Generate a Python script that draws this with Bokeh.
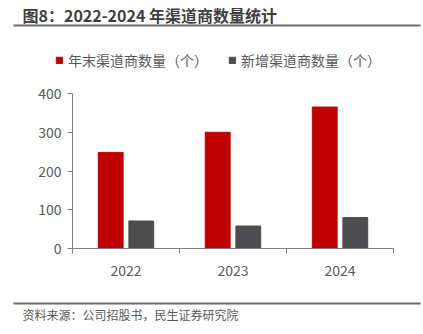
from bokeh.plotting import figure
from bokeh.layouts import column
from bokeh.models import (FixedTicker, Label, BoxAnnotation, Legend, LegendItem, Range1d, ColumnDataSource)
from bokeh.transform import dodge
from bokeh.embed import file_html
from bokeh.resources import INLINE

years = ["2022", "2023", "2024"]
year_end = [248, 300, 365]
new_added = [71, 58, 80]
y_ticks = [0, 100, 200, 300, 400]
title_text = "图8：2022-2024 年渠道商数量统计"
series_names = ["年末渠道商数量（个）", "新增渠道商数量（个）"]
source_text = "资料来源：公司招股书，民生证券研究院"

FONT = "Noto Sans CJK SC"
RED = "#c00000"
GRAY = "#4d4d4f"
TXT = "#595959"
LINE = "#7f7f7f"
RULE = "#6b6b6b"
W = 423

xs = [i + 0.5 for i in range(len(years))]
src = ColumnDataSource(dict(x=xs, a=year_end, b=new_added))


def bare(h):
    f = figure(width=W, height=h, output_backend="svg", toolbar_location=None,
               x_axis_location=None, y_axis_location=None,
               x_range=Range1d(100, 101), y_range=Range1d(1000, 1001),
               min_border=0, frame_align=False)
    f.outline_line_color = None
    f.grid.grid_line_color = None
    return f


def hline(f, y_from_top, h, thick=2):
    f.add_layout(BoxAnnotation(left=13, right=420, top=h - y_from_top, bottom=h - y_from_top - thick,
                               left_units="screen", right_units="screen",
                               top_units="screen", bottom_units="screen",
                               fill_color=RULE, fill_alpha=1, line_color=None, line_alpha=0))


# header: title, rule, legend
HH = 80
hdr = bare(HH)
hdr.add_layout(Label(x=22, y=HH - 14, x_units="screen", y_units="screen", text=title_text,
                     text_font=FONT, text_font_size="16px", text_font_style="bold",
                     text_color="#3f3f3f", text_baseline="middle"))
hline(hdr, 24, HH)
# legend swatches reuse the chart's data source; the header's ranges keep the bars themselves out of view
d1 = hdr.vbar(x="x", top="a", width=0.2, source=src, color=RED)
d2 = hdr.vbar(x="x", top="b", width=0.2, source=src, color=GRAY)
legend = Legend(items=[LegendItem(label=series_names[0], renderers=[d1], index=0),
                       LegendItem(label=series_names[1], renderers=[d2], index=0)],
                orientation="horizontal", location=(55, HH - 70),
                label_text_font=FONT, label_text_font_size="14px", label_text_color=TXT,
                glyph_width=8, glyph_height=8, label_standoff=5, spacing=20,
                border_line_color=None, background_fill_alpha=0, padding=0, margin=0)
hdr.add_layout(legend, "center")

# main chart
MH = 210
p = figure(width=W, height=MH, output_backend="svg", toolbar_location=None,
           x_range=Range1d(0, len(years)), y_range=Range1d(0, 400),
           min_border_left=72, min_border_right=30, min_border_top=13, min_border_bottom=42,
           frame_align=False)
p.outline_line_color = None
p.grid.grid_line_color = None

p.vbar(x=dodge("x", -0.143), top="a", width=0.232, source=src, color=RED)
p.vbar(x=dodge("x", 0.143), top="b", width=0.232, source=src, color=GRAY)

ax = p.xaxis[0]
ax.ticker = FixedTicker(ticks=xs, minor_ticks=list(range(len(years) + 1)))
ax.major_label_overrides = {x: y for x, y in zip(xs, years)}
ax.major_tick_line_color = None
ax.minor_tick_in = 0
ax.minor_tick_out = 5
ax.minor_tick_line_color = LINE
ax.axis_line_color = LINE
ax.major_label_text_font = FONT
ax.major_label_text_font_size = "14px"
ax.major_label_text_color = TXT
ax.major_label_standoff = 10

ay = p.yaxis[0]
ay.ticker = FixedTicker(ticks=y_ticks, minor_ticks=[])
ay.major_tick_in = 0
ay.major_tick_out = 5
ay.major_tick_line_color = LINE
ay.axis_line_color = LINE
ay.major_label_text_font = FONT
ay.major_label_text_font_size = "14px"
ay.major_label_text_color = TXT
ay.major_label_standoff = 6

# footer
FH = 334 - HH - MH
ftr = bare(FH)
hline(ftr, 302 - HH - MH, FH)
ftr.add_layout(Label(x=22, y=FH - (314 - HH - MH), x_units="screen", y_units="screen", text=source_text,
                     text_font=FONT, text_font_size="12px", text_color=TXT,
                     text_baseline="middle"))

layout = column(hdr, p, ftr, spacing=0)
open("out.html", "w").write(file_html(layout, INLINE))
